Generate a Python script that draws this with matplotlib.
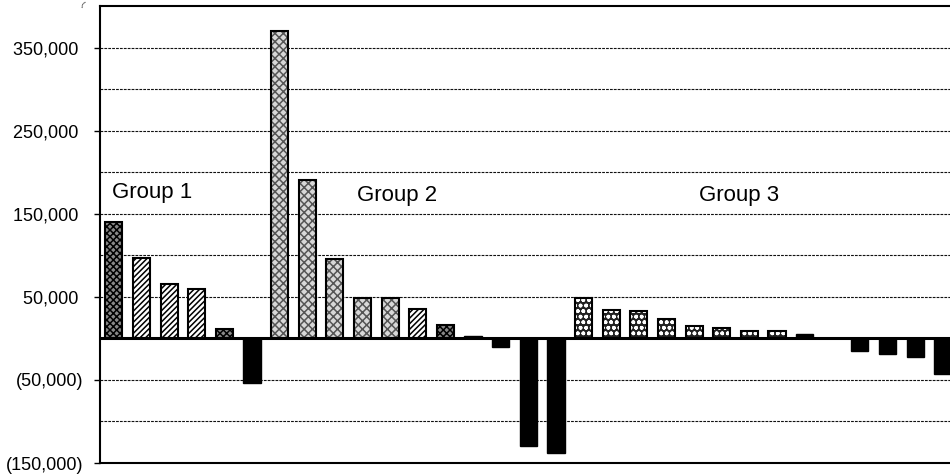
import matplotlib
matplotlib.use("Agg")
import matplotlib.pyplot as plt
import numpy as np

plt.rcParams['font.family'] = ['Liberation Sans', 'DejaVu Sans']
plt.rcParams['hatch.linewidth'] = 1.1

# ---- data ----
values = [140000, 97000, 66000, 60000, 11000, -54000,
          370000, 190000, 95000, 48000, 48000, 35000, 16000, 3000, -10000, -130000, -138000,
          48000, 34000, 33000, 23000, 15000, 12000, 9000, 9000, 5000, 0,
          -15000, -19000, -22000, -43000]
# fill style per bar: 'cross', 'diag', 'light', 'dots', 'black'
styles = ['cross', 'diag', 'diag', 'diag', 'cross', 'black',
          'light', 'light', 'light', 'light', 'light', 'diag', 'cross', 'black', 'black', 'black', 'black',
          'dots', 'dots', 'dots', 'dots', 'dots', 'dots', 'dots', 'dots', 'black', 'black',
          'black', 'black', 'black', 'black']
group_labels = ['Group 1', 'Group 2', 'Group 3']
group_label_x = [-0.07, 8.8, 21.18]
group_label_y = [175000, 172000, 172000]
yticks = [-150000, -50000, 50000, 150000, 250000, 350000]
grid_levels = [-100000, -50000, 50000, 100000, 150000, 200000, 250000, 300000, 350000]

def fmt(v):
    if v < 0:
        return '({:,})'.format(-v)
    return '{:,} '.format(v)

fig = plt.figure(figsize=(9.5, 4.75), dpi=100)
ax = fig.add_axes([100/950, 1-463/475, 1-100/950, 457/475])

x = np.arange(len(values))
w = 0.62

for lvl in grid_levels:
    ax.axhline(lvl, color='#111111', lw=0.8, ls=(0, (2.5, 1.0)), zorder=1)

for xi, v, s in zip(x, values, styles):
    if s == 'black':
        ax.bar(xi, v, w, color='black', edgecolor='black', lw=1.0, zorder=3)
    elif s == 'cross':
        ax.bar(xi, v, w, color='#888888', edgecolor='black', hatch='xxxxx', lw=1.5, zorder=3)
    elif s == 'diag':
        ax.bar(xi, v, w, color='white', edgecolor='black', hatch='//////', lw=1.5, zorder=3)
    elif s == 'light':
        ax.bar(xi, v, w, color='#d8d8d8', edgecolor='#555555', hatch='xxxx', lw=0, zorder=3)
        ax.bar(xi, v, w, color='none', edgecolor='black', lw=1.5, zorder=4)
    elif s == 'dots':
        ax.bar(xi, v, w, color='#222222', edgecolor='white', hatch='ooo', lw=0, zorder=3)
        ax.bar(xi, v, w, color='none', edgecolor='black', lw=1.5, zorder=4)

ax.axhline(0, color='black', lw=2.2, zorder=5)

for lab, gx, gy in zip(group_labels, group_label_x, group_label_y):
    ax.text(gx, gy, lab, fontsize=16, ha='left', va='center', zorder=6)

ax.set_xlim(-0.5, 30.26)
ax.set_ylim(-150000, 400000)
ax.set_yticks(yticks)
ax.set_yticklabels([fmt(v) for v in yticks], fontsize=13)
ax.set_xticks([])
ax.tick_params(axis='y', direction='out', length=4, width=1, pad=8)
ax.spines['right'].set_visible(False)
for sp in ['left', 'top', 'bottom']:
    ax.spines[sp].set_linewidth(1.5)

fig.text(80/950, 0.998, '(', fontsize=5, ha='left', va='top', rotation=-30)

fig.savefig('out.png', dpi=100)
